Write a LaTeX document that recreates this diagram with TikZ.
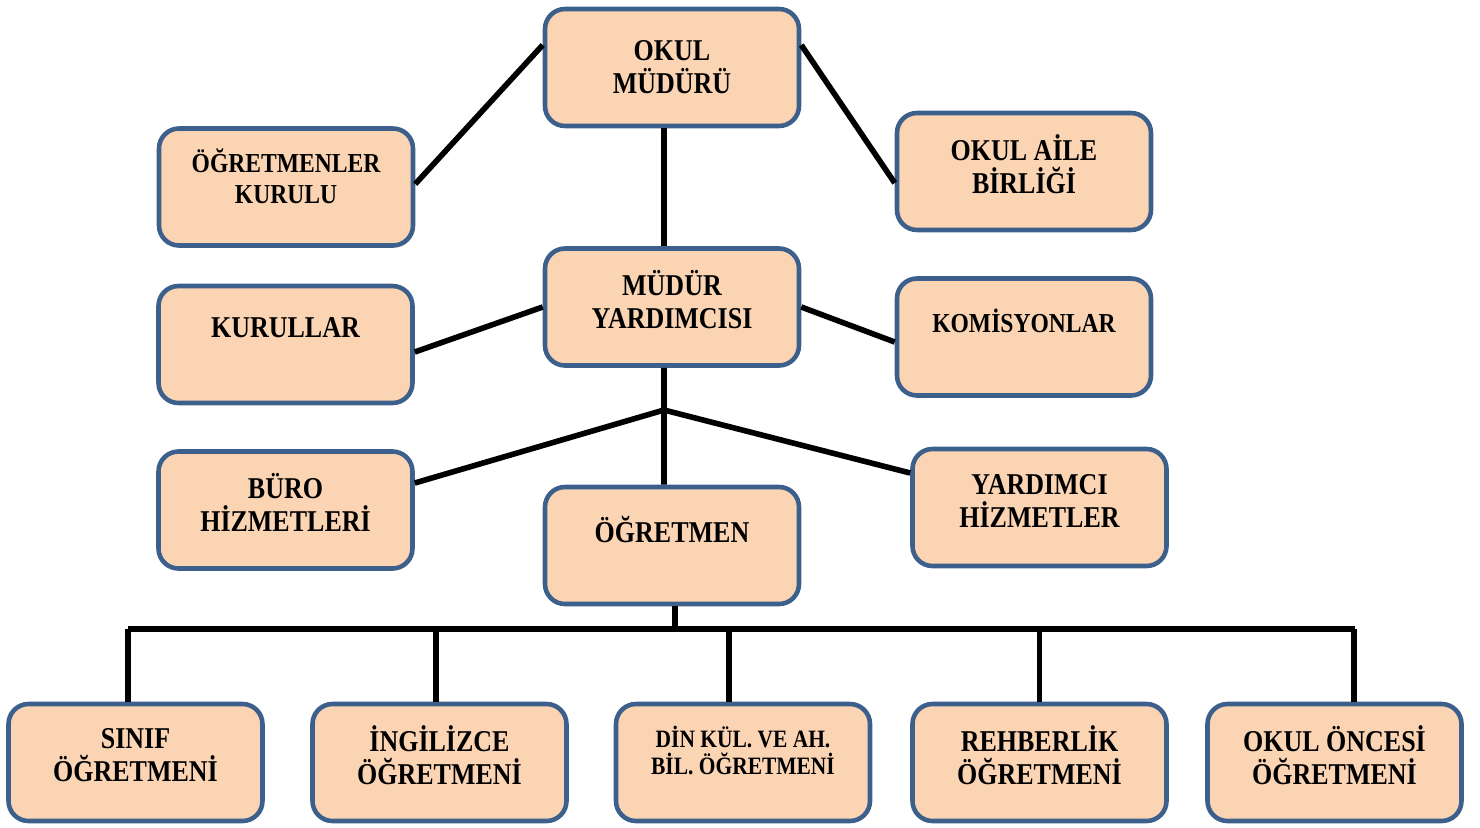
\documentclass[tikz,border=0pt]{standalone}
\usepackage{fontspec}
\setmainfont[FakeStretch=0.86]{Liberation Serif}
\usepackage{tikz}
\definecolor{boxfill}{HTML}{FBD4B4}
\definecolor{boxline}{HTML}{3C5F8C}
\tikzset{
    box/.style={draw=boxline, fill=boxfill, line width=1.3pt, rounded corners=2mm,
        minimum width=2.54cm, minimum height=1.17cm, inner sep=0pt},
    txt/.style={align=center, font=\fontsize{8.6}{9.4}\selectfont\bfseries},
    smalltxt/.style={align=center, font=\fontsize{7.8}{8.8}\selectfont\bfseries},
    tinytxt/.style={align=center, font=\fontsize{7.1}{7.8}\selectfont\bfseries},
    link/.style={line width=1.6pt}}

\begin{document}
\begin{tikzpicture}
            \useasboundingbox (0,0) rectangle (14.8,-8.28);

                    \node[box, label={[txt]center:{OKUL\\MÜDÜRÜ}}] (mudur) at (6.72,-0.675) {};
                    \node[box, label={[smalltxt, yshift=1.05mm]center:{ÖĞRETMENLER\\KURULU}}] (kurul) at (2.86,-1.87) {};
                    \node[box, label={[txt, yshift=0.7mm]center:{OKUL AİLE\\BİRLİĞİ}}] (aile) at (10.24,-1.715) {};
                    \node[box, label={[txt, yshift=0.7mm]center:{MÜDÜR\\YARDIMCISI}}] (yard) at (6.72,-3.07) {};
                    \node[box, label={[txt, yshift=1.65mm]center:KURULLAR}] (kurullar) at (2.855,-3.445) {};
                    \node[box, label={[smalltxt, yshift=1.6mm]center:KOMİSYONLAR}] (komisyon) at (10.24,-3.37) {};
                    \node[box, label={[txt, yshift=0.75mm]center:{BÜRO\\HİZMETLERİ}}] (buro) at (2.855,-5.10) {};
                    \node[box, label={[txt, yshift=1.55mm]center:ÖĞRETMEN}] (ogretmen) at (6.72,-5.455) {};
                    \node[box, label={[txt, yshift=0.65mm]center:{YARDIMCI\\HİZMETLER}}] (yardimci) at (10.395,-5.075) {};

                    \node[box, label={[txt, yshift=0.7mm]center:{SINIF\\ÖĞRETMENİ}}] (sinif) at (1.355,-7.625) {};
                    \node[box, label={[txt, yshift=0.7mm]center:{İNGİLİZCE\\ÖĞRETMENİ}}] (ingilizce) at (4.395,-7.625) {};
                    \node[box, label={[tinytxt, yshift=1.2mm]center:{DİN KÜL. VE AH.\\BİL. ÖĞRETMENİ}}] (din) at (7.43,-7.625) {};
                    \node[box, label={[txt, yshift=0.7mm]center:{REHBERLİK\\ÖĞRETMENİ}}] (rehber) at (10.395,-7.625) {};
                    \node[box, label={[txt, yshift=0.7mm]center:{OKUL ÖNCESİ\\ÖĞRETMENİ}}] (oncesi) at (13.345,-7.625) {};

                    \coordinate (split) at (6.64,-4.10);
                    \coordinate (busL) at (1.28,-6.29);
                    \coordinate (busR) at (13.55,-6.29);

                    \draw[link] ([yshift=2.25mm]mudur.west) -- ([yshift=0.3mm]kurul.east);
                    \draw[link] ([yshift=2.25mm]mudur.east) -- ([yshift=-1.15mm]aile.west);
                    \draw[link] ([xshift=-0.8mm]mudur.south) -- ([xshift=-0.8mm]yard.north);
                    \draw[link] (yard.west) -- ([yshift=-0.75mm]kurullar.east);
                    \draw[link] (yard.east) -- ([yshift=-0.5mm]komisyon.west);
                    \draw[link] ([xshift=-0.8mm]yard.south) -- (split);
                    \draw[link] (split) -- ([yshift=2.7mm]buro.east);
                    \draw[link] (split) -- ([yshift=3.45mm]yardimci.west);
                    \draw[link] (split) -- ([xshift=-0.8mm]ogretmen.north);
                    \draw[link] ([xshift=0.3mm]ogretmen.south) -- ([xshift=0.3mm]ogretmen.south |- busL);
                    \draw[link] (busL) -- (busR);
                    \foreach \n/\dx in {sinif/-0.75mm, ingilizce/-0.35mm, din/-1.4mm, rehber/0mm, oncesi/1.95mm}
                        \draw[link] ([xshift=\dx]\n.north) -- ([xshift=\dx]\n.north |- busL);

                \end{tikzpicture}
\end{document}
